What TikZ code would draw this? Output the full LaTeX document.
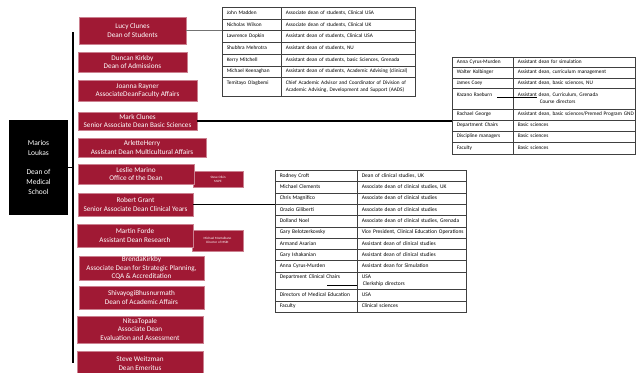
\documentclass[tikz,border=0pt]{standalone}
\usepackage{fontspec}
\setmainfont{Carlito}
\definecolor{crim}{RGB}{160,25,52}
\newcommand\redbx[6]{%
  \pgfmathsetmacro\rbw{#4-#2}\pgfmathsetmacro\rbh{#5-#3}%
  \pgfmathsetmacro\rbx{(#2+#4)/2}\pgfmathsetmacro\rby{(#3+#5)/2}%
  \node[rbox, minimum width=\rbw pt, minimum height=\rbh pt] (#1) at (\rbx,\rby) {#6};}
\newcommand\smallbx[6]{%
  \pgfmathsetmacro\rbw{#4-#2}\pgfmathsetmacro\rbh{#5-#3}%
  \pgfmathsetmacro\rbx{(#2+#4)/2}\pgfmathsetmacro\rby{(#3+#5)/2}%
  \node[sbox, minimum width=\rbw pt, minimum height=\rbh pt] (#1) at (\rbx,\rby) {#6};}
\newcommand\trow[8]{%
  \pgfmathsetmacro\cwl{#3-#2}\pgfmathsetmacro\cwr{#4-#3}\pgfmathsetmacro\ch{#6-#5}%
  \pgfmathsetmacro\twl{#3-#2-9}\pgfmathsetmacro\twr{#4-#3-9}%
  \node[cell, minimum width=\cwl pt, minimum height=\ch pt, text width=\twl pt] (#1L) at (#2,#5) {\begin{tabular}{@{}l@{}}#7\end{tabular}};
  \node[cell, minimum width=\cwr pt, minimum height=\ch pt, text width=\twr pt] (#1R) at (#3,#5) {\begin{tabular}{@{}l@{}}#8\end{tabular}};}
\begin{document}
\begin{tikzpicture}[x=1pt,y=-1pt,
  rbox/.style={fill=crim, draw=crim!55!white, line width=0.5pt, text=white, align=center, inner sep=0pt, font=\fontsize{7.2}{8.3}\selectfont},
  sbox/.style={fill=crim, draw=crim!55!white, line width=0.5pt, text=white, align=center, inner sep=0pt, font=\fontsize{3.3}{4}\selectfont},
  cellbase/.style={draw=black!75, line width=0.5pt, anchor=north west, inner xsep=4.5pt, inner ysep=0pt, align=left},
  cell/.style={cellbase, font=\fontsize{5.3}{6.3}\selectfont},
  deanbox/.style={fill=black, text=white, align=center, inner sep=0pt, font=\fontsize{7.5}{9.8}\selectfont},
  trunk/.style={line width=1.5pt},
  link/.style={line width=1.3pt},
  thinlink/.style={line width=0.7pt, black!55},
  subline/.style={line width=0.4pt}]
\clip (0,0) rectangle (636,372);
\fill[white] (0,0) rectangle (636,372);

% Dean
\node[deanbox, minimum width=59pt, minimum height=95pt] (dean) at (38.5,167.5) {Marios\\Loukas\\[9.8pt]Dean of\\Medical\\School};
\coordinate (vtop) at (73,32);
\coordinate (vbot) at (73,363);
\draw[trunk] (vtop) -- (vbot);
\draw[line width=0.8pt] (dean.east) -- (dean.east -| vtop);

% side boxes (behind)
\smallbx{olkin}{193}{171}{243}{187}{Steve Olkin\\MLPE}
\smallbx{monta}{192}{230}{243}{251}{Michael Montalbano\\Director of MSRI}

% red boxes
\redbx{lucy}{79}{17}{186}{44}{Lucy Clunes\\Dean of Students}
\redbx{duncan}{78}{52}{187}{72}{Duncan Kirkby\\Dean of Admissions}
\redbx{joanna}{78}{80}{197}{101}{Joanna Rayner\\AssociateDeanFaculty Affairs}
\redbx{mark}{78}{112}{197}{130}{Mark Clunes\\Senior Associate Dean Basic Sciences}
\redbx{arlette}{78}{138}{206}{157}{ArletteHerry\\Assistant Dean Multicultural Affairs}
\redbx{leslie}{78}{164}{194}{184}{Leslie Marino\\Office of the Dean}
\redbx{robert}{78}{193}{193}{216}{Robert Grant\\Senior Associate Dean Clinical Years}
\redbx{martin}{77}{224}{193}{247}{Martin Forde\\Assistant Dean Research}
\redbx{brenda}{79}{256}{204}{280}{BrendaKirkby\\Associate Dean for Strategic Planning,\\CQA \& Accreditation}
\redbx{shiva}{79}{286}{204}{309}{ShivayogiBhusnurmath\\Dean of Academic Affairs}
\redbx{nitsa}{77}{316}{203}{343}{NitsaTopale\\Associate Dean\\Evaluation and Assessment}
\redbx{steve}{77}{351}{203}{376}{Steve Weitzman\\Dean Emeritus}

% Table 1 (students)
\trow{ta}{222}{281}{415}{7}{18.7}{John Madden}{Associate dean of students, Clinical USA}
\trow{tb}{222}{281}{415}{18.7}{30.4}{Nicholas Wilson}{Associate dean of students, Clinical UK}
\trow{tc}{222}{281}{415}{30.4}{42.1}{Lawrence Dopkin}{Assistant dean of students, Clinical USA}
\trow{td}{222}{281}{415}{42.1}{53.8}{Shubhra Mehrotra}{Assistant dean of students, NU}
\trow{te}{222}{281}{415}{53.8}{65.5}{Kerry Mitchell}{Assistant dean of students, basic Sciences, Grenada}
\trow{tf}{222}{281}{415}{65.5}{77.2}{Michael Keenaghan}{Assistant dean of students, Academic Advising (clinical)}
\trow{tg}{222}{281}{415}{77.2}{96}{Temitayo Olagbemi\\\mbox{}}{Chief Academic Advisor and Coordinator of Division of\\Academic Advising, Development and Support (AADS)}

% Table 2 (basic sciences)
\trow{ua}{452}{513}{635}{57}{67}{Anna Cyrus-Murden}{Assistant dean for simulation}
\trow{ub}{452}{513}{635}{67}{77.5}{Walter Kolbinger}{Assistant dean, curriculum management}
\trow{uc}{452}{513}{635}{77.5}{88}{James Coey}{Assistant dean, basic sciences, NU}
\trow{ud}{452}{513}{635}{88}{109}{Kazano Raeburn\\\mbox{}}{Assistant dean, Curriculum, Grenada\\[1.5pt]\hspace*{22pt}Course directors}
\trow{ue}{452}{513}{635}{109}{119.5}{Rachael George}{Assistant dean, basic sciences/Premed Program GND}
\trow{uf}{452}{513}{635}{119.5}{130.5}{Department Chairs}{Basic sciences}
\trow{ug}{452}{513}{635}{130.5}{142}{Discipline managers}{Basic sciences}
\trow{uh}{452}{513}{635}{142}{154}{Faculty}{Basic sciences}
\draw[subline] (497,97) -- (537,97);

% Table 3 (clinical)
\begin{scope}[cell/.style={cellbase, font=\fontsize{5.5}{6.5}\selectfont}]
\trow{va}{275}{357}{466}{170}{181.3}{Rodney Croft}{Dean of clinical studies, UK}
\trow{vb}{275}{357}{466}{181.3}{192.6}{Michael Clements}{Associate dean of clinical studies, UK}
\trow{vc}{275}{357}{466}{192.6}{203.9}{Chris Magnifico}{Associate dean of clinical studies}
\trow{vd}{275}{357}{466}{203.9}{215.2}{Orazio Giliberti}{Associate dean of clinical studies}
\trow{ve}{275}{357}{466}{215.2}{226.5}{Dolland Noel}{Associate dean of clinical studies, Grenada}
\trow{vf}{275}{357}{466}{226.5}{237.8}{Gary Belotzerkovsky}{Vice President, Clinical Education Operations}
\trow{vg}{275}{357}{466}{237.8}{249.1}{Armand Asarian}{Assistant dean of clinical studies}
\trow{vh}{275}{357}{466}{249.1}{260.4}{Gary Ishakanian}{Assistant dean of clinical studies}
\trow{vi}{275}{357}{466}{260.4}{271.7}{Anna Cyrus-Murden}{Assistant dean for Simulation}
\trow{vj}{275}{357}{466}{271.7}{289}{Department Clinical Chairs\\\mbox{}}{USA\\\hspace*{1pt}Clerkship directors}
\trow{vk}{275}{357}{466}{289}{300.5}{Directors of Medical Education}{USA}
\trow{vl}{275}{357}{466}{300.5}{312}{Faculty}{Clinical sciences}
\end{scope}
\draw[subline] (327,285) -- (357,285);

% connectors
\draw[thinlink] (lucy.east) -- (lucy.east -| taL.west);
\draw[link] (mark.east) -- (mark.east -| ufL.west);
\draw[link] (robert.east) -- (robert.east -| vaL.west);
\end{tikzpicture}
\end{document}
